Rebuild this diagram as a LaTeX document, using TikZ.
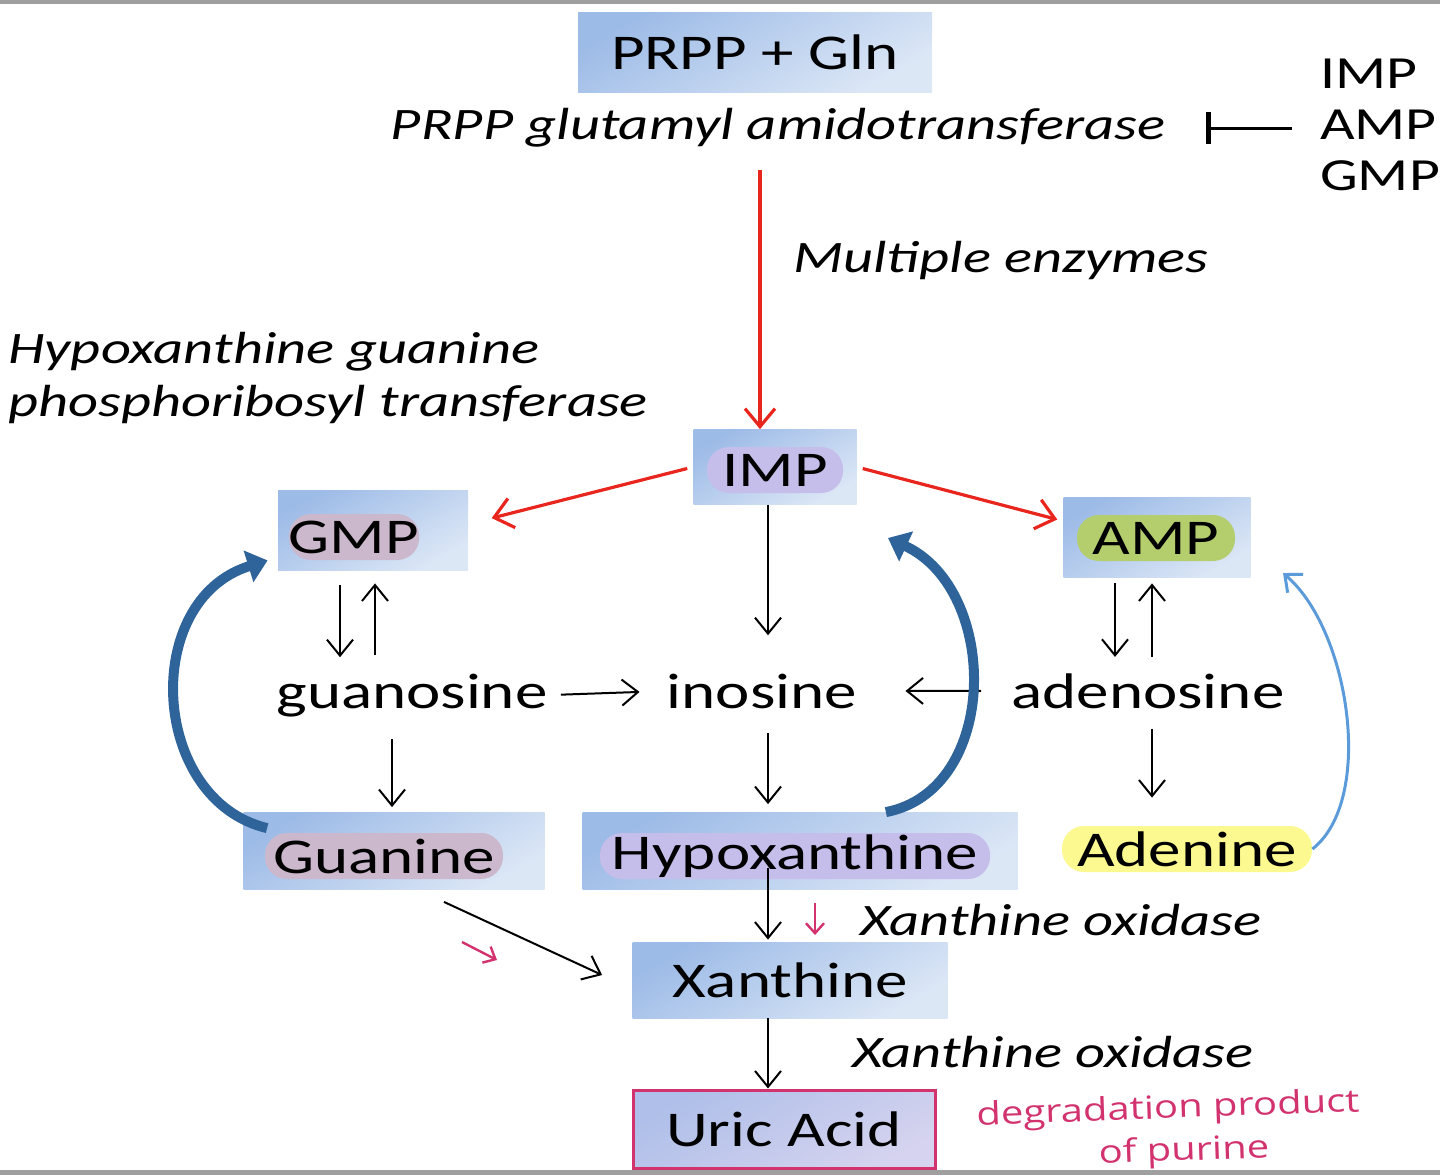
\documentclass[tikz,border=0pt]{standalone}
\usepackage{fontspec}
\setmainfont{Carlito}[FakeStretch=1.3]
\newfontfamily\handfont{Open Sans}[FakeStretch=1.25]
\usetikzlibrary{arrows.meta}
\definecolor{boxtop}{HTML}{9DBBE7}
\definecolor{boxbot}{HTML}{DCE7F6}
\definecolor{urictop}{HTML}{AFBFE9}
\definecolor{uricbot}{HTML}{D5D3EF}
\definecolor{pathred}{HTML}{E8261E}
\definecolor{salvage}{HTML}{2E6499}
\definecolor{adeblue}{HTML}{5B9BD9}
\definecolor{notepink}{HTML}{D2336E}
\definecolor{gmppill}{HTML}{CBB8CC}
\definecolor{imppill}{HTML}{C5BDEA}
\definecolor{amppill}{HTML}{B4CE6E}
\definecolor{adepill}{HTML}{FBF98F}

\begin{document}
\begin{tikzpicture}[x=0.5pt,y=-0.5pt,
  box/.style={inner sep=0pt,top color=boxtop,bottom color=boxbot,shading angle=30},
  pill/.style={rounded corners=11pt,inner sep=0pt,minimum height=23pt,font=\fontsize{25}{30}\selectfont},
  lbl/.style={inner sep=0pt,font=\fontsize{25}{30}\selectfont},
  enz/.style={inner sep=0pt,font=\fontsize{22.5}{26.5}\selectfont\itshape},
  arr/.style={line width=1pt,-{Straight Barb[length=8pt,width=13pt]}},
  redarr/.style={draw=pathred,line width=1.6pt,-{Straight Barb[length=9pt,width=15pt]}},
  bluearc/.style={draw=salvage,line width=5pt,-{Triangle[width=16pt,length=10pt]}},
  note/.style={draw=notepink,line width=1.2pt,-{Straight Barb[length=5pt,width=9pt]}},
  hand/.style={inner sep=0pt,rotate=2,text=notepink,font=\handfont\fontsize{16}{16}\selectfont},
]
\useasboundingbox (0,0) rectangle (1440,1175);
\fill[gray!75] (0,0) rectangle (1440,4);
\fill[gray!75] (0,1170) rectangle (1440,1175);

% synthesis from PRPP
\node[box,minimum width=177pt,minimum height=40pt,lbl] (prpp) at (755,52) {PRPP + Gln};
\node[enz] (gat) at (778,128) {PRPP glutamyl amidotransferase};
\node[inner sep=0pt,align=left,font=\fontsize{23}{25.5}\selectfont] (fb) at (1380,125) {IMP\\AMP\\GMP};
\node[enz] (multi) at (1001,260) {Multiple enzymes};
\node[enz,align=left,anchor=west] (hgprt) at (8,378) {Hypoxanthine guanine\\phosphoribosyl transferase};

% nucleotides
\node[box,minimum width=81.5pt,minimum height=37.5pt] (imp) at (775,467) {};
\node[pill,fill=imppill,minimum width=68pt] (impt) at (775,470) {IMP};
\node[box,minimum width=95pt,minimum height=40pt] (gmp) at (373,530) {};
\node[pill,fill=gmppill,minimum width=64pt] (gmpt) at (354,537) {GMP};
\node[box,minimum width=93.5pt,minimum height=40pt] (amp) at (1157,537) {};
\node[pill,fill=amppill,minimum width=79pt] (ampt) at (1156,538) {AMP};

% nucleosides
\node[lbl,anchor=base] (guo) at (412,708) {guanosine};
\node[lbl,anchor=base] (ino) at (762,708) {inosine};
\node[lbl,anchor=base] (ado) at (1148,708) {adenosine};

% bases
\node[box,minimum width=150.5pt,minimum height=38.5pt] (gua) at (394,851) {};
\node[pill,fill=gmppill,minimum width=119pt] (guat) at (384,856) {Guanine};
\node[box,minimum width=217.5pt,minimum height=38.5pt] (hyp) at (800,851) {};
\node[pill,fill=imppill,minimum width=195pt] (hypt) at (795,856) {Hypoxanthine};
\node[pill,fill=adepill,minimum width=125pt] (ade) at (1187,849) {Adenine};
\node[box,minimum width=157.5pt,minimum height=38pt,lbl] (xan) at (790,980) {Xanthine};
\node[inner sep=0pt,top color=urictop,bottom color=uricbot,shading angle=30,draw=notepink,line width=1.5pt,
  minimum width=151pt,minimum height=39pt,lbl] (uric) at (784,1129) {Uric Acid};
\node[enz] (xo1) at (1061,920) {Xanthine oxidase};
\node[enz] (xo2) at (1053,1052) {Xanthine oxidase};
\node[hand] (deg) at (1168,1110) {degradation product};
\node[hand] (deg2) at (1184,1152) {of purine};

\coordinate (redtop) at (760,170);
\coordinate (midcol) at (768,0);
\coordinate (gdown) at (340,0);
\coordinate (gup) at (375,0);
\coordinate (gcol) at (392,0);
\coordinate (adown) at (1115,0);
\coordinate (aup) at (1152,0);

% de novo and branch arrows
\draw[line width=1.5pt,-{Bar[width=16pt,line width=2.5pt]},shorten <=14pt,shorten >=20pt] (fb.west |- gat.east) -- (gat.east);
\draw[redarr] (redtop) -- (redtop |- imp.north);
\draw[redarr,shorten <=3pt,shorten >=12pt] (imp.west) -- ([yshift=3pt]gmp.east);
\draw[redarr,shorten <=3pt,shorten >=3pt] (imp.east) -- ([yshift=8pt]amp.west);

% degradation
\draw[arr,shorten >=19pt] (imp.south -| midcol) -- (ino.north -| midcol);
\draw[arr,shorten <=7.5pt,shorten >=8pt] (gmp.south -| gdown) -- (guo.north -| gdown);
\draw[arr,shorten <=9pt,shorten >=6.5pt] (guo.north -| gup) -- (gmp.south -| gup);
\draw[arr,shorten <=11pt,shorten >=2.5pt] (guo.south -| gcol) -- (gua.north -| gcol);
\draw[arr,shorten <=12.5pt,shorten >=4pt] (ino.base -| midcol) -- (hyp.north -| midcol);
\draw[arr,shorten <=3pt,shorten >=8pt] (amp.south -| adown) -- (ado.north -| adown);
\draw[arr,shorten <=8pt,shorten >=3pt] (ado.north -| aup) -- (amp.south -| aup);
\draw[arr,shorten <=10pt,shorten >=14pt] (ado.south -| aup) -- (ade.north -| aup);
\draw[arr,shorten <=6.5pt,shorten >=13.5pt] (guo.east) -- (ino.west);
\draw[arr,shorten <=15pt,shorten >=24pt] (ado.west) -- (ino.east);
\draw[arr,shorten <=-11pt,shorten >=1pt] (hyp.south -| midcol) -- (xan.north -| midcol);
\draw[arr] (xan.south -| midcol) -- (uric.north -| midcol);
\draw[arr] ([xshift=25pt,yshift=-6pt]gua.south) -- ([xshift=-15pt,yshift=2.5pt]xan.west);

% salvage
\draw[bluearc] ([xshift=12pt,yshift=-8pt]gua.north west) .. controls (150,800) and (140,600) .. ([xshift=-5pt,yshift=5pt]gmp.south west);
\draw[bluearc] ([xshift=-66pt]hyp.north east) .. controls (1000,790) and (1000,590) .. (888,538);
\draw[draw=adeblue,line width=1.5pt,-{Straight Barb[length=7pt,width=12pt]}] (ade.east) .. controls (1375,800) and (1350,630) .. (1283,573);

% hand notes
\draw[note] (815,903) -- (815,935);
\draw[note] (462,942) -- (497,960);
\end{tikzpicture}
\end{document}
